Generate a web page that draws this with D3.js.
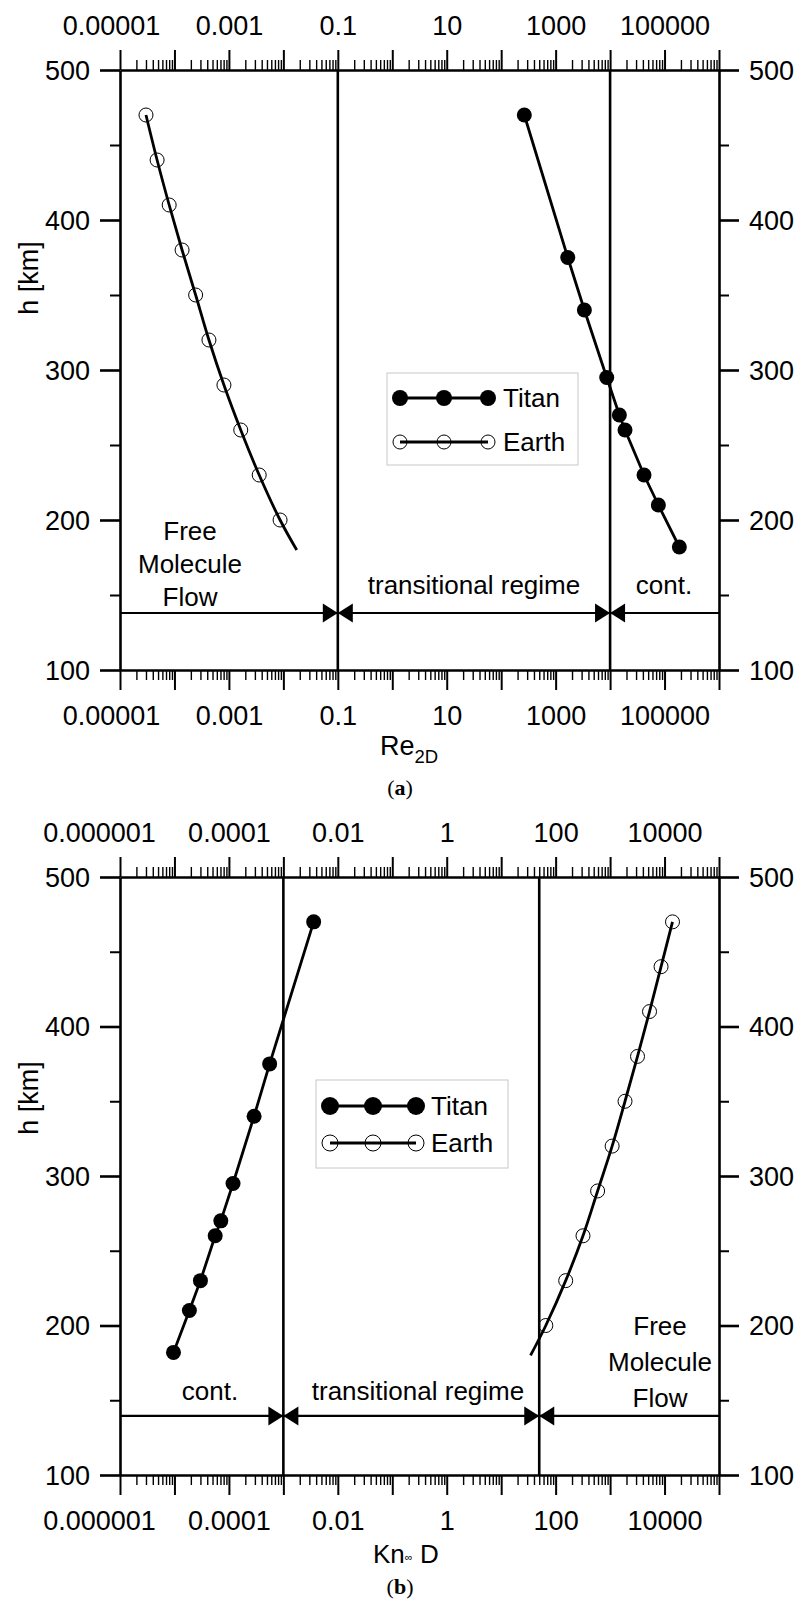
<!DOCTYPE html>
<html>
<head>
<meta charset="utf-8">
<script src="https://cdn.jsdelivr.net/npm/d3@7"></script>
<style>
  body { margin: 0; background: #fff; }
  svg text { font-family: "Liberation Sans", Arial, sans-serif; fill: #000; }
</style>
</head>
<body>
<div id="chart"></div>
<script>
// altitude of the sampled points [km]
const hTitan = [470, 375, 340, 295, 270, 260, 230, 210, 182];
const hEarth = [470, 440, 410, 380, 350, 320, 290, 260, 230, 200];

// panel (a): Reynolds number
const reTitan = [266, 1670, 3370, 8670, 14800, 18800, 42000, 77000, 187000];
const reEarth = [3.0e-5, 4.8e-5, 8.0e-5, 1.38e-4, 2.45e-4, 4.3e-4, 8.1e-4, 1.65e-3, 3.6e-3, 8.7e-3];
const reEarthFitEnd = { h: 180, v: 0.0176 };
const reTickVals = [1e-5, 1e-3, 1e-1, 10, 1000, 1e5];
const reTickLabels = ["0.00001", "0.001", "0.1", "10", "1000", "100000"];
const reBounds = [0.1, 1e4];

// panel (b): Knudsen number
const knTitan = [3.6e-3, 5.6e-4, 2.9e-4, 1.19e-4, 7.1e-5, 5.6e-5, 3.0e-5, 1.88e-5, 9.6e-6];
const knEarth = [14000, 8630, 5300, 3190, 1880, 1090, 590, 318, 153, 66];
const knEarthFitEnd = { h: 180, v: 34.6 };
const knTickVals = [1e-6, 1e-4, 1e-2, 1, 100, 1e4];
const knTickLabels = ["0.000001", "0.0001", "0.01", "1", "100", "10000"];
const knBounds = [1e-3, 50];

const hMajor = [100, 200, 300, 400, 500];
const hMinor = [150, 250, 350, 450];

const svg = d3.select("#chart").append("svg")
  .attr("width", 799)
  .attr("height", 1602);

const left = 120, right = 719;

drawPanel({
  top: 70, bottom: 670,
  domain: [1e-5, 1e6],
  tickVals: reTickVals, tickLabels: reTickLabels, firstDx: -9,
  bounds: reBounds, arrowH: 138,
  titan: reTitan, earth: reEarth, earthEnd: reEarthFitEnd,
  legend: { x: 387, y: 373, w: 191, h: 92, rows: [398, 442], mx: [400, 444, 488], tx: 503, rT: 8, rE: 7 },
  free: { x: 190, ys: [540, 573, 606] },
  regimes: [
    { text: "transitional regime", x: 474, y: 594 },
    { text: "cont.", x: 664, y: 594 }
  ],
  hLabelY: 278,
  caption: "a", captionY: 795
});

drawPanel({
  top: 877, bottom: 1475,
  domain: [1e-6, 1e5],
  tickVals: knTickVals, tickLabels: knTickLabels, firstDx: -21,
  bounds: knBounds, arrowH: 139.5,
  titan: knTitan, earth: knEarth, earthEnd: knEarthFitEnd,
  legend: { x: 316, y: 1080, w: 192, h: 88, rows: [1106, 1143], mx: [330, 373, 416], tx: 431, rT: 9, rE: 8 },
  free: { x: 660, ys: [1335, 1371, 1407] },
  regimes: [
    { text: "cont.", x: 210, y: 1400 },
    { text: "transitional regime", x: 418, y: 1400 }
  ],
  hLabelY: 1098,
  caption: "b", captionY: 1594
});

// axis titles
const reTitle = svg.append("text").attr("x", 380).attr("y", 755).style("font-size", "27px");
reTitle.append("tspan").text("Re");
reTitle.append("tspan").attr("dy", 8).style("font-size", "18.5px").text("2D");

const knTitle = svg.append("text").attr("x", 373).attr("y", 1563).style("font-size", "26px");
knTitle.append("tspan").text("Kn");
knTitle.append("tspan").attr("dy", -2).style("font-size", "11px").text("\u221e");
knTitle.append("tspan").attr("dy", 2).text(" D");

function drawPanel(cfg) {
  const x = d3.scaleLog().domain(cfg.domain).range([left, right]);
  const y = d3.scaleLinear().domain([100, 500]).range([cfg.bottom, cfg.top]);
  const g = svg.append("g");

  const e0 = Math.round(Math.log10(cfg.domain[0]));
  const e1 = Math.round(Math.log10(cfg.domain[1]));
  const decades = d3.range(e0, e1 + 1).map(e => Math.pow(10, e));
  const minor = decades.slice(0, -1).flatMap(d => d3.range(2, 10).map(k => k * d));

  // x axes, top and bottom
  [[d3.axisTop, cfg.top, 35], [d3.axisBottom, cfg.bottom, 36]].forEach(([fn, yPos, pad]) => {
    const minorG = g.append("g").attr("transform", `translate(0,${yPos})`)
      .call(fn(x).tickValues(minor).tickSize(10).tickFormat(""));
    minorG.select(".domain").remove();
    minorG.selectAll("line").attr("stroke-width", 1.4);

    const majorG = g.append("g").attr("transform", `translate(0,${yPos})`)
      .call(fn(x).tickValues(decades).tickSize(20).tickFormat("").tickSizeOuter(0));
    majorG.select(".domain").attr("stroke-width", 2.6);
    majorG.selectAll("line").attr("stroke-width", 2);

    const labG = g.append("g").attr("transform", `translate(0,${yPos})`)
      .call(fn(x).tickValues(cfg.tickVals).tickSize(0).tickPadding(pad)
        .tickFormat((d, i) => cfg.tickLabels[i]));
    labG.select(".domain").remove();
    labG.selectAll("line").remove();
    labG.selectAll("text")
      .attr("dx", (d, i) => (i === 0 ? cfg.firstDx : 0))
      .style("font-size", "27px")
      .style("font-family", "'Liberation Sans', Arial, sans-serif");
  });

  // y axes, left and right
  [[d3.axisLeft, left], [d3.axisRight, right]].forEach(([fn, xPos]) => {
    const minorG = g.append("g").attr("transform", `translate(${xPos},0)`)
      .call(fn(y).tickValues(hMinor).tickSize(10).tickFormat(""));
    minorG.select(".domain").remove();
    minorG.selectAll("line").attr("stroke-width", 2);

    const majorG = g.append("g").attr("transform", `translate(${xPos},0)`)
      .call(fn(y).tickValues(hMajor).tickSize(20).tickPadding(10).tickSizeOuter(0));
    majorG.select(".domain").attr("stroke-width", 2.6);
    majorG.selectAll("line").attr("stroke-width", 2.6);
    majorG.selectAll("text")
      .attr("dy", "0.35em")
      .style("font-size", "27px")
      .style("font-family", "'Liberation Sans', Arial, sans-serif");
  });

  // regime boundaries
  g.selectAll(".bound").data(cfg.bounds).enter().append("line")
    .attr("x1", d => x(d)).attr("x2", d => x(d))
    .attr("y1", y(100)).attr("y2", y(500))
    .attr("stroke", "#000").attr("stroke-width", 2.6);

  // regime arrows
  const ya = y(cfg.arrowH);
  g.append("line")
    .attr("x1", left).attr("x2", right).attr("y1", ya).attr("y2", ya)
    .attr("stroke", "#000").attr("stroke-width", 2.2);
  const aL = 15, aH = 9.5;
  cfg.bounds.forEach(b => {
    const xb = x(b);
    [-1, 1].forEach(s => {
      g.append("path")
        .attr("d", `M${xb},${ya}L${xb + s * aL},${ya - aH}L${xb + s * aL},${ya + aH}Z`)
        .attr("fill", "#000");
    });
  });

  // Earth: fitted curve with open markers
  const earthPts = hEarth.map((h, i) => ({ h, v: cfg.earth[i] }));
  const fitLine = d3.line().curve(d3.curveCatmullRom)
    .x(d => x(d.v)).y(d => y(d.h));
  g.append("path").datum(earthPts.concat([cfg.earthEnd]))
    .attr("d", fitLine)
    .attr("fill", "none").attr("stroke", "#000").attr("stroke-width", 2.8);
  g.selectAll(".earth").data(earthPts).enter().append("circle")
    .attr("cx", d => x(d.v)).attr("cy", d => y(d.h)).attr("r", 7)
    .attr("fill", "none").attr("stroke", "#000").attr("stroke-width", 1);

  // Titan: polyline with filled markers
  const titanPts = hTitan.map((h, i) => ({ h, v: cfg.titan[i] }));
  const polyLine = d3.line().x(d => x(d.v)).y(d => y(d.h));
  g.append("path").datum(titanPts)
    .attr("d", polyLine)
    .attr("fill", "none").attr("stroke", "#000").attr("stroke-width", 2.8);
  g.selectAll(".titan").data(titanPts).enter().append("circle")
    .attr("cx", d => x(d.v)).attr("cy", d => y(d.h)).attr("r", 7.5)
    .attr("fill", "#000");

  // legend
  const lg = cfg.legend;
  g.append("rect")
    .attr("x", lg.x).attr("y", lg.y).attr("width", lg.w).attr("height", lg.h)
    .attr("fill", "#fff").attr("stroke", "#c8c8c8").attr("stroke-width", 1);
  [["Titan", true], ["Earth", false]].forEach(([name, filled], i) => {
    const ry = lg.rows[i];
    g.append("line")
      .attr("x1", lg.mx[0]).attr("x2", lg.mx[2]).attr("y1", ry).attr("y2", ry)
      .attr("stroke", "#000").attr("stroke-width", 3);
    lg.mx.forEach(mx => {
      g.append("circle").attr("cx", mx).attr("cy", ry)
        .attr("r", filled ? lg.rT : lg.rE)
        .attr("fill", filled ? "#000" : "none")
        .attr("stroke", "#000").attr("stroke-width", filled ? 0 : 1);
    });
    g.append("text").attr("x", lg.tx).attr("y", ry).attr("dy", "0.35em")
      .style("font-size", "26px").text(name);
  });

  // region annotations
  ["Free", "Molecule", "Flow"].forEach((t, i) => {
    g.append("text").attr("x", cfg.free.x).attr("y", cfg.free.ys[i])
      .attr("text-anchor", "middle").style("font-size", "26px").text(t);
  });
  cfg.regimes.forEach(r => {
    g.append("text").attr("x", r.x).attr("y", r.y)
      .attr("text-anchor", "middle").style("font-size", "26px").text(r.text);
  });

  // y title
  g.append("text")
    .attr("transform", `translate(38,${cfg.hLabelY}) rotate(-90)`)
    .attr("text-anchor", "middle").style("font-size", "27px").text("h [km]");

  // caption
  const cap = g.append("text").attr("x", 400).attr("y", cfg.captionY)
    .attr("text-anchor", "middle")
    .style("font-family", "'Liberation Serif', 'Times New Roman', serif")
    .style("font-size", "22px");
  cap.append("tspan").text("(");
  cap.append("tspan").style("font-weight", "bold").text(cfg.caption);
  cap.append("tspan").text(")");
}
</script>
</body>
</html>
